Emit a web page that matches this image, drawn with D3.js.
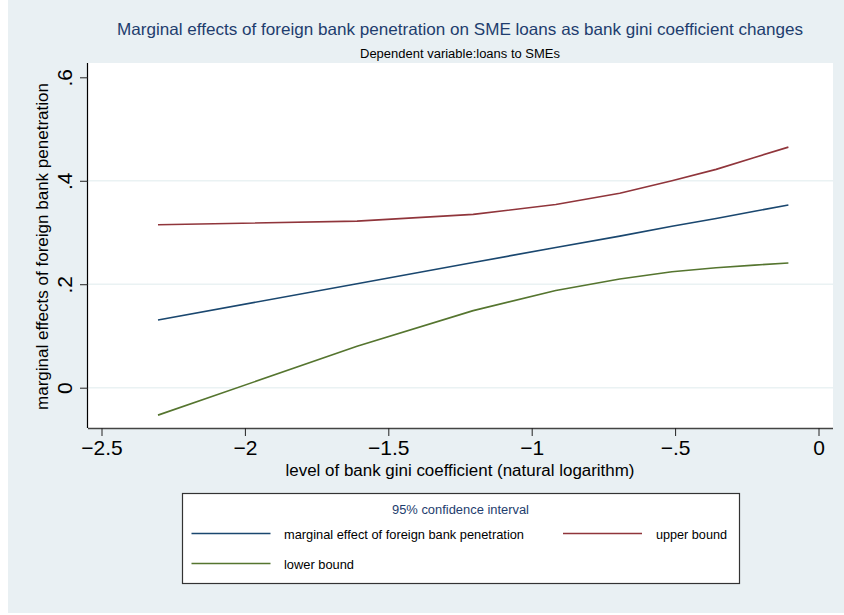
<!DOCTYPE html>
<html>
<head>
<meta charset="utf-8">
<script src="https://cdn.jsdelivr.net/npm/d3@7"></script>
<style>
  html, body { margin: 0; padding: 0; background: #ffffff; }
  svg { display: block; }
  text { font-family: "Liberation Sans", Arial, Helvetica, sans-serif; }
</style>
</head>
<body>
<svg id="chart" width="844" height="615"></svg>
<script>
// Gini coefficient levels 0.1 ... 0.9, in natural logarithm
const giniLog = [-2.303, -1.609, -1.204, -0.916, -0.693, -0.511, -0.357, -0.223, -0.105];
// Marginal effect of foreign bank penetration and its 95% confidence bounds
const marginalEffect = [0.131, 0.201, 0.242, 0.271, 0.293, 0.312, 0.327, 0.341, 0.353];
const upperBound     = [0.315, 0.322, 0.335, 0.354, 0.376, 0.400, 0.422, 0.445, 0.465];
const lowerBound     = [-0.053, 0.080, 0.149, 0.188, 0.210, 0.224, 0.232, 0.237, 0.241];

const xTicks = [-2.5, -2, -1.5, -1, -0.5, 0];
const yTicks = [0, 0.2, 0.4, 0.6];
const yGrid  = [0, 0.2, 0.4];

const seriesNames  = ["marginal effect of foreign bank penetration", "upper bound", "lower bound"];
const seriesColors = ["#1a476f", "#90353b", "#55752f"];

const titleText    = "Marginal effects of foreign bank penetration on SME loans as bank gini coefficient changes";
const subtitleText = "Dependent variable:loans to SMEs";
const xTitleText   = "level of bank gini coefficient (natural logarithm)";
const yTitleText   = "marginal effects of foreign bank penetration";
const legendTitle  = "95% confidence interval";

const svg = d3.select("#chart");
const W = 844, H = 615;

// Stata-style number labels: "−2.5", "−.5", ".2"
const stataFmt = v => {
  if (v === 0) return "0";
  let s = String(Math.abs(v)).replace(/^0\./, ".");
  return (v < 0 ? "\u2212" : "") + s;
};

// Squeeze a text run to a set width (Stata's Helvetica runs a little narrow)
function fitText(sel, width) {
  sel.attr("textLength", width).attr("lengthAdjust", "spacingAndGlyphs");
}

// Graph region
svg.append("rect").attr("x", 8).attr("y", 0).attr("width", W - 8).attr("height", 613)
  .attr("fill", "#e9f0f3");

// Plot region
const plot = { left: 88, right: 833, top: 63, bottom: 428 };
svg.append("rect").attr("x", plot.left).attr("y", plot.top)
  .attr("width", plot.right - plot.left).attr("height", plot.bottom - plot.top)
  .attr("fill", "#ffffff");

const x = d3.scaleLinear().domain([-2.5, 0]).range([101.5, 818.5]);
const y = d3.scaleLinear().domain([0, 0.6]).range([387.7, 77.3]);

// Grid lines
svg.append("g").selectAll("line").data(yGrid).join("line")
  .attr("x1", plot.left).attr("x2", plot.right)
  .attr("y1", d => y(d)).attr("y2", d => y(d))
  .attr("stroke", "#eaf2f3").attr("stroke-width", 1.5);

// Series lines
const line = d3.line().x((d, i) => x(giniLog[i])).y(d => y(d));
const seriesData = [marginalEffect, upperBound, lowerBound];
svg.append("g").selectAll("path").data(seriesData).join("path")
  .attr("d", d => line(d))
  .attr("fill", "none")
  .attr("stroke", (d, i) => seriesColors[i])
  .attr("stroke-width", 1.6)
  .attr("stroke-linejoin", "round");

// X axis
const xAxis = d3.axisBottom(x).tickValues(xTicks).tickFormat(stataFmt).tickSize(8).tickPadding(4);
const gx = svg.append("g").attr("transform", `translate(0,${plot.bottom})`).call(xAxis);
gx.select(".domain").attr("d", `M${plot.left},0.5H${plot.right}`).attr("stroke", "#444").attr("stroke-width", 1.6);
gx.selectAll(".tick line").attr("stroke", "#222");
gx.selectAll(".tick text").attr("font-size", 21).attr("fill", "#000")
  .attr("font-family", "Liberation Sans, Arial, sans-serif");

// Y axis (labels rotated, as in Stata)
const yAxis = d3.axisLeft(y).tickValues(yTicks).tickFormat(stataFmt).tickSize(8).tickPadding(0);
const gy = svg.append("g").attr("transform", `translate(${plot.left},0)`).call(yAxis);
gy.select(".domain").attr("d", `M-0.5,${plot.top}V${plot.bottom}`).attr("stroke", "#000").attr("stroke-width", 1.2);
gy.selectAll(".tick line").attr("stroke", "#222");
gy.selectAll(".tick text")
  .attr("font-size", 21).attr("fill", "#000")
  .attr("font-family", "Liberation Sans, Arial, sans-serif")
  .attr("x", null).attr("dy", null)
  .attr("text-anchor", "middle")
  .attr("transform", "translate(-16,0) rotate(-90)");

// Titles
svg.append("text").attr("x", 460).attr("y", 35).attr("text-anchor", "middle")
  .attr("font-size", 16.5).attr("fill", "#1e3d6e").text(titleText)
  .call(fitText, 686);
svg.append("text").attr("x", 460).attr("y", 58).attr("text-anchor", "middle")
  .attr("font-size", 12).attr("fill", "#000").text(subtitleText)
  .call(fitText, 200);

svg.append("text").attr("x", 460).attr("y", 476).attr("text-anchor", "middle")
  .attr("font-size", 16).attr("fill", "#000").text(xTitleText)
  .call(fitText, 349);
svg.append("text").attr("transform", "translate(48,246.5) rotate(-90)").attr("text-anchor", "middle")
  .attr("font-size", 16.5).attr("fill", "#000").text(yTitleText)
  .call(fitText, 327);

// Legend
const lg = svg.append("g");
lg.append("rect").attr("x", 182.5).attr("y", 493.5).attr("width", 557).attr("height", 90)
  .attr("fill", "#ffffff").attr("stroke", "#333").attr("stroke-width", 1.2);
lg.append("text").attr("x", 460.5).attr("y", 514).attr("text-anchor", "middle")
  .attr("font-size", 12.5).attr("fill", "#1e3d6e").text(legendTitle)
  .call(fitText, 137);

const legendPos = [
  { lx: 191.5, ly: 533.5, tx: 284, ty: 538.5, w: 240 },
  { lx: 563,   ly: 533.5, tx: 656, ty: 538.5, w: 71 },
  { lx: 191.5, ly: 563.5, tx: 284, ty: 568.5, w: 70 }
];
const items = lg.selectAll("g.item").data(seriesNames).join("g").attr("class", "item");
items.append("line")
  .attr("x1", (d, i) => legendPos[i].lx).attr("x2", (d, i) => legendPos[i].lx + 79)
  .attr("y1", (d, i) => legendPos[i].ly).attr("y2", (d, i) => legendPos[i].ly)
  .attr("stroke", (d, i) => seriesColors[i]).attr("stroke-width", 1.6);
items.append("text")
  .attr("x", (d, i) => legendPos[i].tx).attr("y", (d, i) => legendPos[i].ty)
  .attr("font-size", 13).attr("fill", "#000").text(d => d)
  .each(function(d, i) { d3.select(this).call(fitText, legendPos[i].w); });
</script>
</body>
</html>
